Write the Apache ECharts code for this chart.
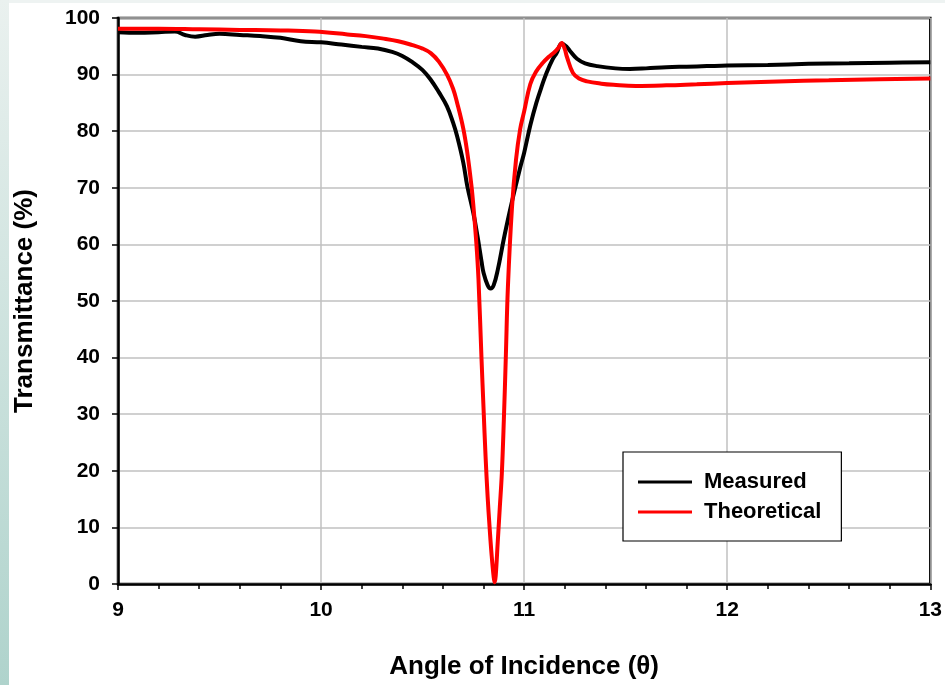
<!DOCTYPE html>
<html><head><meta charset="utf-8">
<script src="https://cdn.jsdelivr.net/npm/echarts@6/dist/echarts.min.js"></script>
<style>html,body{margin:0;padding:0;background:#fff}#c{width:945px;height:685px}</style>
</head><body><div id="c"></div>
<script>
const seriesNames = ['Measured', 'Theoretical'];
const measuredAngle = [9.00,9.10,9.20,9.28,9.33,9.38,9.44,9.50,9.60,9.70,9.80,9.90,10.00,10.10,10.20,10.28,10.35,10.40,10.45,10.50,10.54,10.58,10.62,10.65,10.67,10.70,10.72,10.75,10.77,10.79,10.80,10.82,10.835,10.85,10.87,10.90,10.93,10.95,10.98,11.00,11.03,11.06,11.09,11.11,11.14,11.16,11.185,11.21,11.23,11.26,11.30,11.36,11.45,11.52,11.60,11.70,11.80,11.90,12.00,12.20,12.40,12.60,12.80,13.00];
const measuredT = [97.5,97.4,97.5,97.6,97.0,96.7,97.0,97.2,97.0,96.8,96.5,95.9,95.7,95.3,94.9,94.6,94.0,93.3,92.2,90.8,89.1,86.9,84.4,81.5,79.1,74.5,70.3,65.5,61.5,57.0,55.0,52.8,52.2,52.8,55.5,61.0,66.0,69.1,73.5,76.2,81.0,85.0,88.3,90.3,92.7,93.8,95.5,94.9,94.0,92.8,92.0,91.5,91.1,91.0,91.1,91.3,91.4,91.5,91.6,91.7,91.9,92.0,92.1,92.2];
const theoAngle = [9.00,9.20,9.40,9.60,9.80,9.97,10.13,10.22,10.30,10.38,10.45,10.50,10.54,10.58,10.62,10.65,10.67,10.70,10.72,10.74,10.75,10.765,10.775,10.79,10.80,10.81,10.82,10.83,10.84,10.85,10.855,10.86,10.87,10.88,10.89,10.90,10.91,10.92,10.94,10.96,10.98,11.00,11.03,11.06,11.09,11.12,11.15,11.17,11.185,11.20,11.21,11.24,11.27,11.31,11.38,11.44,11.55,11.70,11.85,12.00,12.25,12.50,12.75,13.00];
const theoT = [98.1,98.1,98.0,97.9,97.8,97.6,97.1,96.8,96.4,95.9,95.2,94.6,93.8,92.3,90.0,87.5,85.0,80.5,76.2,70.5,66.8,60.0,53.9,39.8,31.0,22.5,15.5,9.9,5.0,1.2,0.3,1.5,7.5,13.5,19.5,29.0,40.5,52.5,66.5,75.0,80.3,83.5,88.3,90.6,92.0,93.1,94.0,94.8,95.6,94.5,93.2,90.3,89.3,88.8,88.4,88.2,88.0,88.1,88.3,88.5,88.8,89.0,89.2,89.3];
const xAxisTitle = 'Angle of Incidence (\u03b8)';
const yAxisTitle = 'Transmittance (%)';

const zip = (a, b) => a.map((v, i) => [v, b[i]]);
const FONT = '"Liberation Sans", Arial, sans-serif';

const chart = echarts.init(document.getElementById('c'), null, {renderer: 'canvas'});
chart.setOption({
  animation: false,
  backgroundColor: '#ffffff',
  graphic: [
    {type: 'rect', left: 0, top: 0, shape: {width: 945, height: 3}, style: {fill: '#eef3f2'}, silent: true, z: -10},
    {type: 'rect', left: 0, top: 0, shape: {width: 9, height: 685}, silent: true, z: -10,
      style: {fill: new echarts.graphic.LinearGradient(0, 0, 0, 1, [{offset: 0, color: '#eaf1ef'}, {offset: 1, color: '#afd3cc'}])}}
  ],
  grid: {left: 118, right: 14, top: 18, bottom: 99, show: true, borderColor: '#000', borderWidth: 2.5, backgroundColor: 'transparent'},
  legend: {
    data: seriesNames, orient: 'vertical', left: 623, top: 452,
    padding: [19, 20, 18, 15], itemGap: 8, itemWidth: 54, itemHeight: 3, icon: 'rect',
    backgroundColor: '#fff', borderColor: '#000', borderWidth: 1.2,
    textStyle: {fontFamily: FONT, fontWeight: 'bold', fontSize: 22, color: '#000', padding: [0, 0, 0, 7]}
  },
  xAxis: {
    type: 'value', min: 9, max: 13, interval: 1,
    name: xAxisTitle, nameLocation: 'middle', nameGap: 70,
    nameTextStyle: {fontFamily: FONT, fontWeight: 'bold', fontSize: 26, color: '#000'},
    axisLine: {show: true, onZero: false, lineStyle: {color: '#000', width: 2.5}},
    axisTick: {show: true, inside: false, length: 6, lineStyle: {color: '#000', width: 1.5}},
    minorTick: {show: true, splitNumber: 5, length: 5, lineStyle: {color: '#000', width: 1.5}},
    axisLabel: {fontFamily: FONT, fontWeight: 'bold', fontSize: 21, color: '#000', margin: 16},
    splitLine: {show: true, lineStyle: {color: '#c0c0c0', width: 1.5}}
  },
  yAxis: {
    type: 'value', min: 0, max: 100, interval: 10,
    name: yAxisTitle, nameLocation: 'middle', nameGap: 80, nameRotate: 90,
    nameTextStyle: {fontFamily: FONT, fontWeight: 'bold', fontSize: 26, color: '#000'},
    axisLine: {show: true, lineStyle: {color: '#000', width: 2.5}},
    axisTick: {show: true, inside: false, length: 6, lineStyle: {color: '#000', width: 1.5}},
    axisLabel: {fontFamily: FONT, fontWeight: 'bold', fontSize: 21, color: '#000', margin: 18},
    splitLine: {show: true, lineStyle: {color: '#c0c0c0', width: 1.5}}
  },
  series: [
    {name: seriesNames[0], type: 'line', data: zip(measuredAngle, measuredT), showSymbol: false, symbol: 'none',
      smooth: 0.4, lineStyle: {color: '#000', width: 4}, itemStyle: {color: '#000'}},
    {name: seriesNames[1], type: 'line', data: zip(theoAngle, theoT), showSymbol: false, symbol: 'none',
      smooth: 0.4, lineStyle: {color: '#ff0000', width: 4}, itemStyle: {color: '#ff0000'}}
  ]
});
</script>
</body></html>
